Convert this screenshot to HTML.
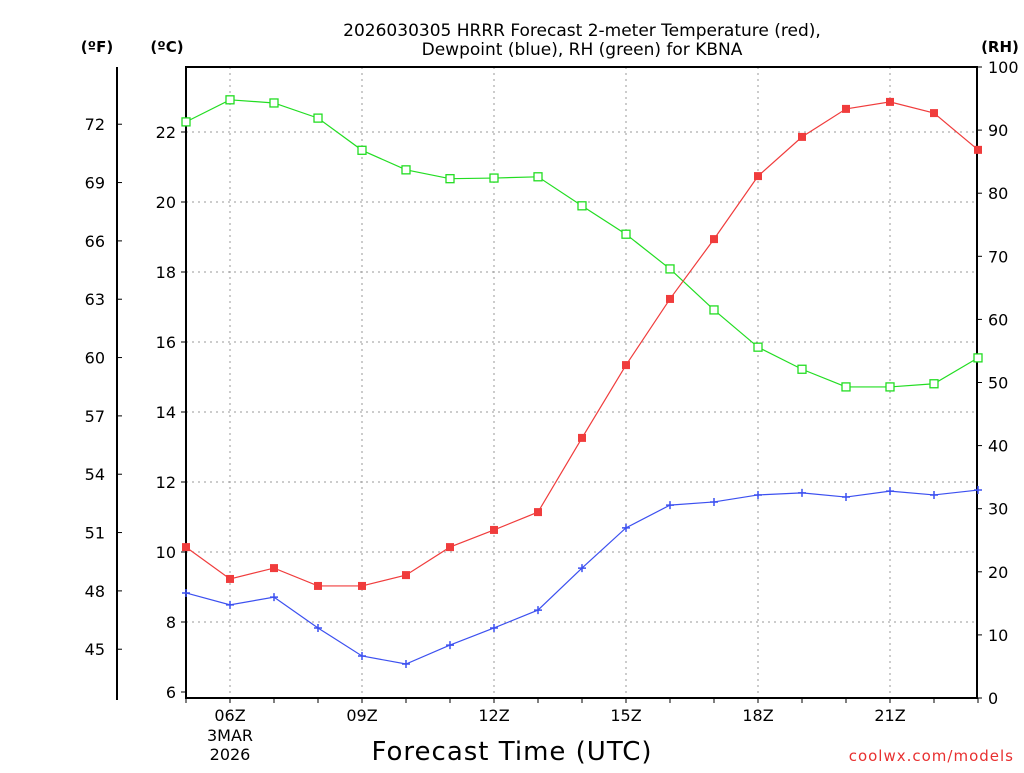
<!DOCTYPE html>
<html><head><meta charset="utf-8"><style>
body{margin:0;background:#fff;}
svg text{font-family:"DejaVu Sans","Liberation Sans",sans-serif;}
</style></head><body>
<svg id="chart" width="1024" height="768" xmlns="http://www.w3.org/2000/svg">
<rect width="1024" height="768" fill="#fff"/>
<text x="582" y="36" font-size="17" text-anchor="middle">2026030305 HRRR Forecast 2-meter Temperature (red),</text>
<text x="582" y="55" font-size="17" text-anchor="middle">Dewpoint (blue), RH (green) for KBNA</text>
<text x="97" y="52" font-size="15" font-weight="bold" text-anchor="middle">(ºF)</text>
<text x="167" y="52" font-size="15" font-weight="bold" text-anchor="middle">(ºC)</text>
<text x="1000" y="52" font-size="15" font-weight="bold" text-anchor="middle">(RH)</text>
<text x="512" y="760" font-size="26" text-anchor="middle" letter-spacing="1">Forecast Time (UTC)</text>
<text x="1014" y="761" font-size="15" fill="#e83030" text-anchor="end" letter-spacing="1">coolwx.com/models</text>
<g id="grid"></g>
<g id="axes"></g>
<g id="series"></g>
</svg>
<script>
const hours=[5,6,7,8,9,10,11,12,13,14,15,16,17,18,19,20,21,22,23];
const tempC=[10.14,9.23,9.54,9.03,9.03,9.34,10.14,10.63,11.14,13.26,15.34,17.23,18.94,20.74,21.86,22.66,22.86,22.54,21.49];
const dewC=[8.83,8.49,8.71,7.83,7.03,6.8,7.34,7.83,8.34,9.54,10.69,11.34,11.43,11.63,11.69,11.57,11.74,11.63,11.77];
const rh=[91.3,94.8,94.3,91.9,86.8,83.7,82.3,82.4,82.6,78.0,73.5,68.0,61.5,55.6,52.1,49.3,49.3,49.8,53.9];
const cTicks=[6,8,10,12,14,16,18,20,22];
const fTicks=[45,48,51,54,57,60,63,66,69,72];
const rhTicks=[0,10,20,30,40,50,60,70,80,90,100];
const xTicks=[6,9,12,15,18,21];
const xTickLabels=["06Z","09Z","12Z","15Z","18Z","21Z"];

const L=186,R=977,T=67,B=698;
const x=h=>L+(h-5)*44;
const yC=c=>692-(c-6)*35;
const yF=f=>yC((f-32)*5/9);
const yRH=v=>B-v*(B-T)/100;
const NS="http://www.w3.org/2000/svg";
function mk(parent,tag,attrs,text){const e=document.createElementNS(NS,tag);for(const k in attrs)e.setAttribute(k,attrs[k]);if(text!==undefined)e.textContent=text;document.getElementById(parent).appendChild(e);return e;}

// grid
cTicks.forEach(c=>{if(c===6)return;const g=mk('grid','line',{x1:L,x2:R,y1:yC(c),y2:yC(c),stroke:'#999','stroke-dasharray':'2,4'});

});
xTicks.forEach(h=>{const g=mk('grid','line',{x1:x(h),x2:x(h),y1:T,y2:B,stroke:'#999','stroke-dasharray':'2,4'});

});

// frame & axes
const fr=mk('axes','rect',{x:L,y:T,width:R-L,height:B-T,fill:'none',stroke:'#000','stroke-width':2});


const fl=mk('axes','line',{x1:117,x2:117,y1:T,y2:700,stroke:'#000','stroke-width':2});


cTicks.forEach(c=>{mk('axes','line',{x1:L-5,x2:L,y1:yC(c),y2:yC(c),stroke:'#000'});
const t=mk('axes','text',{x:L-10,y:yC(c)+6,'font-size':16,'text-anchor':'end'},c);

});
fTicks.forEach(f=>{mk('axes','line',{x1:117,x2:122,y1:yF(f),y2:yF(f),stroke:'#000'});
const t=mk('axes','text',{x:105,y:yF(f)+6,'font-size':16,'text-anchor':'end'},f);

});
rhTicks.forEach(v=>{mk('axes','line',{x1:R,x2:R+5,y1:yRH(v),y2:yRH(v),stroke:'#000'});
const t=mk('axes','text',{x:988,y:yRH(v)+6,'font-size':16},v);

});
hours.forEach(h=>{mk('axes','line',{x1:x(h),x2:x(h),y1:B,y2:B+5,stroke:'#000'});});
xTicks.forEach((h,i)=>{const t=mk('axes','text',{x:x(h),y:721,'font-size':16,'text-anchor':'middle'},xTickLabels[i]);

});
const d1=mk('axes','text',{x:x(6),y:741,'font-size':16,'text-anchor':'middle'},'3MAR');


const d2=mk('axes','text',{x:x(6),y:760,'font-size':16,'text-anchor':'middle'},'2026');



// series
function line(vals,yf,color,name){const pts=hours.map((h,i)=>x(h)+','+yf(vals[i])).join(' ');
const p=mk('series','polyline',{points:pts,fill:'none',stroke:color,'stroke-width':1.2});

}
line(rh,yRH,'#22dd22','rh-line');
line(tempC,yC,'#f03c3c','temperature-line');
line(dewC,yC,'#3c50f0','dewpoint-line');
hours.forEach((h,i)=>{
const a=mk('series','rect',{x:x(h)-4,y:yRH(rh[i])-4,width:8,height:8,fill:'#fff',stroke:'#22dd22','stroke-width':1.3});


const b=mk('series','rect',{x:x(h)-4,y:yC(tempC[i])-4,width:8,height:8,fill:'#f03c3c'});


const c=mk('series','path',{d:`M${x(h)-4},${yC(dewC[i])}h8M${x(h)},${yC(dewC[i])-4}v8`,stroke:'#3c50f0','stroke-width':1.5});


});
</script>
</body></html>
